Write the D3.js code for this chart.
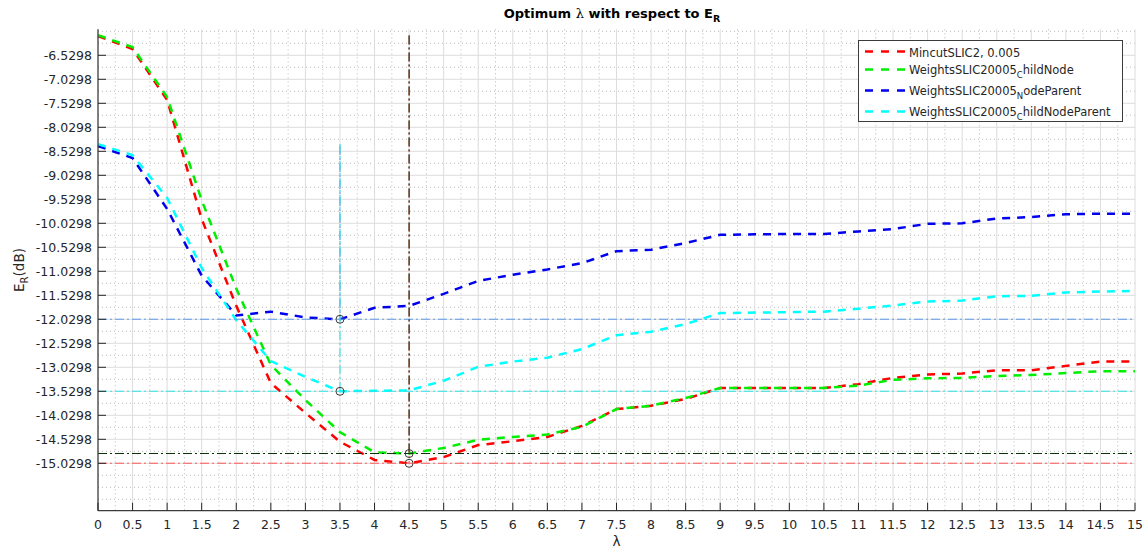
<!DOCTYPE html>
<html>
<head>
<meta charset="utf-8">
<script src="https://cdn.jsdelivr.net/npm/d3@7/dist/d3.min.js"></script>
<style>
  html, body { margin: 0; padding: 0; background: #fff; }
  svg { display: block; font-family: "DejaVu Sans", sans-serif; }
</style>
</head>
<body>
<svg id="chart" width="1148" height="549"></svg>
<script>
// ---------- data ----------
const lambda = [0,0.5,1,1.5,2,2.5,3,3.5,4,4.5,5,5.5,6,6.5,7,7.5,8,8.5,9,9.5,10,10.5,11,11.5,12,12.5,13,13.5,14,14.5,15];

const mincut = [-6.13,-6.40,-7.46,-9.94,-11.75,-13.36,-13.98,-14.58,-14.96,-15.0298,-14.90,-14.65,-14.57,-14.48,-14.25,-13.90,-13.83,-13.69,-13.46,-13.46,-13.46,-13.46,-13.38,-13.25,-13.18,-13.16,-13.09,-13.09,-13.00,-12.91,-12.91];
const childNode = [-6.11,-6.36,-7.40,-9.55,-11.39,-12.98,-13.71,-14.38,-14.80,-14.826,-14.71,-14.54,-14.48,-14.43,-14.27,-13.90,-13.83,-13.67,-13.46,-13.46,-13.46,-13.46,-13.41,-13.29,-13.26,-13.25,-13.21,-13.19,-13.15,-13.11,-13.11];
const nodeParent = [-8.42,-8.67,-9.73,-11.12,-11.95,-11.87,-11.99,-12.0298,-11.79,-11.75,-11.50,-11.23,-11.10,-10.99,-10.86,-10.61,-10.58,-10.44,-10.27,-10.26,-10.25,-10.25,-10.20,-10.15,-10.04,-10.03,-9.93,-9.90,-9.84,-9.83,-9.83];
const childNodeParent = [-8.38,-8.61,-9.50,-10.96,-12.05,-12.90,-13.23,-13.5298,-13.52,-13.51,-13.31,-13.02,-12.91,-12.83,-12.65,-12.36,-12.29,-12.13,-11.90,-11.89,-11.88,-11.87,-11.81,-11.74,-11.66,-11.64,-11.55,-11.54,-11.47,-11.45,-11.44];

const seriesNames = [
  ["MincutSLIC2, 0.005", "", ""],
  ["WeightsSLIC20005", "C", "hildNode"],
  ["WeightsSLIC20005", "N", "odeParent"],
  ["WeightsSLIC20005", "C", "hildNodeParent"]
];
const seriesColors = ["#ff0000", "#00ee00", "#0000ee", "#00ffff"];
const refColors = ["#ff5a5a", "#0a330a", "#5f9be8", "#2fe3e8"];

const xTicks = [0,0.5,1,1.5,2,2.5,3,3.5,4,4.5,5,5.5,6,6.5,7,7.5,8,8.5,9,9.5,10,10.5,11,11.5,12,12.5,13,13.5,14,14.5,15];
const xTickLabels = ["0","0.5","1","1.5","2","2.5","3","3.5","4","4.5","5","5.5","6","6.5","7","7.5","8","8.5","9","9.5","10","10.5","11","11.5","12","12.5","13","13.5","14","14.5","15"];
const yTicks = [-15.0298,-14.5298,-14.0298,-13.5298,-13.0298,-12.5298,-12.0298,-11.5298,-11.0298,-10.5298,-10.0298,-9.5298,-9.0298,-8.5298,-8.0298,-7.5298,-7.0298,-6.5298];
const yTickLabels = ["-15.0298","-14.5298","-14.0298","-13.5298","-13.0298","-12.5298","-12.0298","-11.5298","-11.0298","-10.5298","-10.0298","-9.5298","-9.0298","-8.5298","-8.0298","-7.5298","-7.0298","-6.5298"];

// ---------- layout ----------
const L = 98, R = 1135, T = 29.3, B = 510.7;
const svg = d3.select("#chart");
const x = d3.scaleLinear().domain([0, 15]).range([L, R]);
const y = d3.scaleLinear().domain([-16.017, -5.988]).range([B, T]);

const series = [mincut, childNode, nodeParent, childNodeParent];

// ---------- grid ----------
const grid = svg.append("g");
const xMinor = [];
for (let i = 0; i < xTicks.length - 1; i++) xMinor.push((xTicks[i] + xTicks[i+1]) / 2);
const yMinor = [];
const yd = y.domain();
for (let v = yTicks[0] - 0.25; v > yd[0]; v -= 0.25) yMinor.push(v);
for (let i = 0; i < yTicks.length - 1; i++) yMinor.push((yTicks[i] + yTicks[i+1]) / 2);
for (let v = yTicks[yTicks.length-1] + 0.25; v < yd[1]; v += 0.25) yMinor.push(v);

grid.selectAll(".xm").data(xMinor).enter().append("line")
  .attr("x1", d => x(d)).attr("x2", d => x(d)).attr("y1", T).attr("y2", B)
  .attr("stroke", "#b8b8b8").attr("stroke-width", 1).attr("stroke-dasharray", "1,3");
grid.selectAll(".ym").data(yMinor).enter().append("line")
  .attr("x1", L).attr("x2", R).attr("y1", d => y(d)).attr("y2", d => y(d))
  .attr("stroke", "#b8b8b8").attr("stroke-width", 1).attr("stroke-dasharray", "1,3");
grid.selectAll(".xM").data(xTicks.slice(1)).enter().append("line")
  .attr("x1", d => x(d)).attr("x2", d => x(d)).attr("y1", T).attr("y2", B)
  .attr("stroke", "#dcdcdc").attr("stroke-width", 1);
grid.selectAll(".yM").data(yTicks).enter().append("line")
  .attr("x1", L).attr("x2", R).attr("y1", d => y(d)).attr("y2", d => y(d))
  .attr("stroke", "#dcdcdc").attr("stroke-width", 1);

// ---------- curves ----------
const line = d3.line().x((d, i) => x(lambda[i])).y(d => y(d));
series.forEach((s, k) => {
  svg.append("path").datum(s)
    .attr("d", line)
    .attr("fill", "none")
    .attr("stroke", seriesColors[k])
    .attr("stroke-width", 2.5)
    .attr("stroke-dasharray", "8,7");
});

// ---------- reference lines (min of each curve) ----------
const refOrder = [0, 2, 1, 3];
refOrder.forEach(k => {
  const s = series[k];
  const mn = d3.min(s), mx = d3.max(s);
  const xi = lambda[s.indexOf(mn)];
  svg.append("line")
    .attr("x1", x(0)).attr("x2", x(15)).attr("y1", y(mn)).attr("y2", y(mn))
    .attr("stroke", refColors[k]).attr("stroke-width", 1.1)
    .attr("stroke-dasharray", "9,3,2,3");
  svg.append("line")
    .attr("x1", x(xi)).attr("x2", x(xi)).attr("y1", y(mx)).attr("y2", y(mn))
    .attr("stroke", refColors[k]).attr("stroke-width", 1.1)
    .attr("stroke-dasharray", "9,3,2,3");
});
refOrder.forEach(k => {
  const s = series[k];
  const mn = d3.min(s);
  const xi = lambda[s.indexOf(mn)];
  svg.append("circle")
    .attr("cx", x(xi)).attr("cy", y(mn)).attr("r", 4)
    .attr("fill", "none").attr("stroke", "#3a3a3a").attr("stroke-width", 1);
});

// ---------- axes ----------
const axG = svg.append("g").attr("font-size", 12.5).attr("fill", "#262626");
axG.append("line").attr("x1", L).attr("x2", L).attr("y1", T).attr("y2", B)
  .attr("stroke", "#3c3c3c").attr("stroke-width", 1.3);
axG.append("line").attr("x1", L).attr("x2", R).attr("y1", B).attr("y2", B)
  .attr("stroke", "#3c3c3c").attr("stroke-width", 1.3);
axG.selectAll(".yt").data(yTicks).enter().append("line")
  .attr("x1", L).attr("x2", L + 8).attr("y1", d => y(d)).attr("y2", d => y(d))
  .attr("stroke", "#262626").attr("stroke-width", 1);
axG.selectAll(".xt").data(xTicks).enter().append("line")
  .attr("x1", d => x(d)).attr("x2", d => x(d)).attr("y1", B).attr("y2", B - 8)
  .attr("stroke", "#262626").attr("stroke-width", 1);
axG.selectAll(".yl").data(yTicks).enter().append("text")
  .attr("x", L - 6).attr("y", d => y(d)).attr("dy", "0.36em")
  .attr("text-anchor", "end").attr("fill", "#262626")
  .text((d, i) => yTickLabels[i]);
axG.selectAll(".xl").data(xTicks).enter().append("text")
  .attr("x", d => x(d)).attr("y", B + 18)
  .attr("text-anchor", "middle").attr("fill", "#262626")
  .text((d, i) => xTickLabels[i]);

// axis labels
svg.append("text").attr("x", (L + R) / 2).attr("y", 546)
  .attr("text-anchor", "middle").attr("font-size", 13.5).attr("fill", "#262626")
  .text("λ");
const yl = svg.append("text")
  .attr("transform", "translate(24,270) rotate(-90)")
  .attr("text-anchor", "middle").attr("font-size", 13.5).attr("fill", "#262626");
yl.append("tspan").text("E");
yl.append("tspan").attr("font-size", 10).attr("dy", 4).text("R");
yl.append("tspan").attr("dy", -4).text("(dB)");

// title
const title = svg.append("text").attr("x", 612).attr("y", 18)
  .attr("text-anchor", "middle").attr("font-size", 13).attr("font-weight", "bold").attr("fill", "#000");
title.append("tspan").text("Optimum ");
title.append("tspan").attr("font-weight", "normal").attr("font-family", "DejaVu Serif").text("λ");
title.append("tspan").text(" with respect to E");
title.append("tspan").attr("font-size", 9.5).attr("dy", 4).text("R");

// ---------- legend ----------
const lg = svg.append("g");
lg.append("rect").attr("x", 858.5).attr("y", 40.5).attr("width", 264).attr("height", 81)
  .attr("fill", "#fff").attr("stroke", "#3c3c3c").attr("stroke-width", 1);
const rowY = [51.5, 69.5, 90.5, 111.5];
const textDy = [5.5, 4, 4, 4];
seriesNames.forEach((nm, k) => {
  lg.append("line").attr("x1", 865).attr("x2", 905).attr("y1", rowY[k]).attr("y2", rowY[k])
    .attr("stroke", seriesColors[k]).attr("stroke-width", 2.5).attr("stroke-dasharray", "8,8");
  const t = lg.append("text").attr("x", 909).attr("y", rowY[k] + textDy[k])
    .attr("font-size", 11.5).attr("fill", "#262626");
  t.append("tspan").text(nm[0]);
  if (nm[1]) {
    t.append("tspan").attr("font-size", 8.5).attr("dy", 4).text(nm[1]);
    t.append("tspan").attr("dy", -4).text(nm[2]);
  }
});
</script>
</body>
</html>
